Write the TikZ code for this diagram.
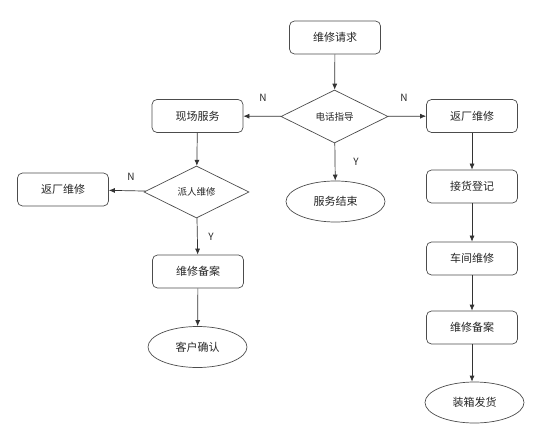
\documentclass[tikz,border=0pt]{standalone}
\usepackage{fontspec}
\setmainfont{Noto Sans CJK SC}
\usetikzlibrary{shapes.geometric,arrows.meta}
\begin{document}
\begin{tikzpicture}[x=1pt,y=-1pt,
  line width=0.7pt,
  every node/.style={font=\fontsize{11}{13}\selectfont, text=black!85},
  boxnode/.style={draw=black!70, rounded corners=5pt, minimum width=91pt, minimum height=33pt, inner sep=0pt},
  dianode/.style={draw=black!70, diamond, aspect=2, minimum width=0pt, inner sep=0pt, font=\fontsize{9.5}{11}\selectfont},
  ellnode/.style={draw=black!70, ellipse, minimum width=99pt, minimum height=41pt, inner sep=0pt},
  conn/.style={draw=black!80, -{Latex[length=6pt,width=5pt]}},
  lbl/.style={font=\fontsize{10}{12}\selectfont}
]
\useasboundingbox (0,0) rectangle (553,435);
\node[boxnode] (req) at (335,37.5) {维修请求};
\node[draw=black!70, diamond, minimum width=107pt, minimum height=53pt, inner sep=0pt, font=\fontsize{9.5}{11}\selectfont] (phone) at (334.5,116.5) {电话指导};
\node[boxnode] (onsite) at (197.5,116) {现场服务};
\node[boxnode] (ret1) at (472,116) {返厂维修};
\node[ellnode] (end) at (335.5,201.5) {服务结束};
\node[draw=black!70, diamond, minimum width=105pt, minimum height=52pt, inner sep=0pt, font=\fontsize{9.5}{11}\selectfont] (send) at (196.5,192) {派人维修};
\node[boxnode] (ret2) at (63,189.5) {返厂维修};
\node[boxnode] (rec1) at (198,271.5) {维修备案};
\node[ellnode] (cust) at (197.5,347) {客户确认};
\node[boxnode] (recv) at (472,186.5) {接货登记};
\node[boxnode] (shop) at (472,258.5) {车间维修};
\node[boxnode] (rec2) at (472,327.5) {维修备案};
\node[ellnode] (ship) at (474.5,402.5) {装箱发货};

\draw[conn] (req) -- (phone);
\draw[conn] (phone) -- (onsite);
\draw[conn] (phone) -- (ret1);
\draw[conn] (phone) -- (end);
\draw[conn] (onsite) -- (send);
\draw[conn] (send) -- (ret2);
\draw[conn] (send) -- (rec1);
\draw[conn] (rec1) -- (cust);
\draw[conn] (ret1) -- (recv);
\draw[conn] (recv) -- (shop);
\draw[conn] (shop) -- (rec2);
\draw[conn] (rec2.south -| ret1) -- (ship.north -| ret1);

\node[lbl] (n1) at (263,98) {N};
\node[lbl] (n2) at (404,98) {N};
\node[lbl] (y1) at (356,162) {Y};
\node[lbl] (n3) at (131,177) {N};
\node[lbl] (y2) at (211,237) {Y};
\end{tikzpicture}
\end{document}
